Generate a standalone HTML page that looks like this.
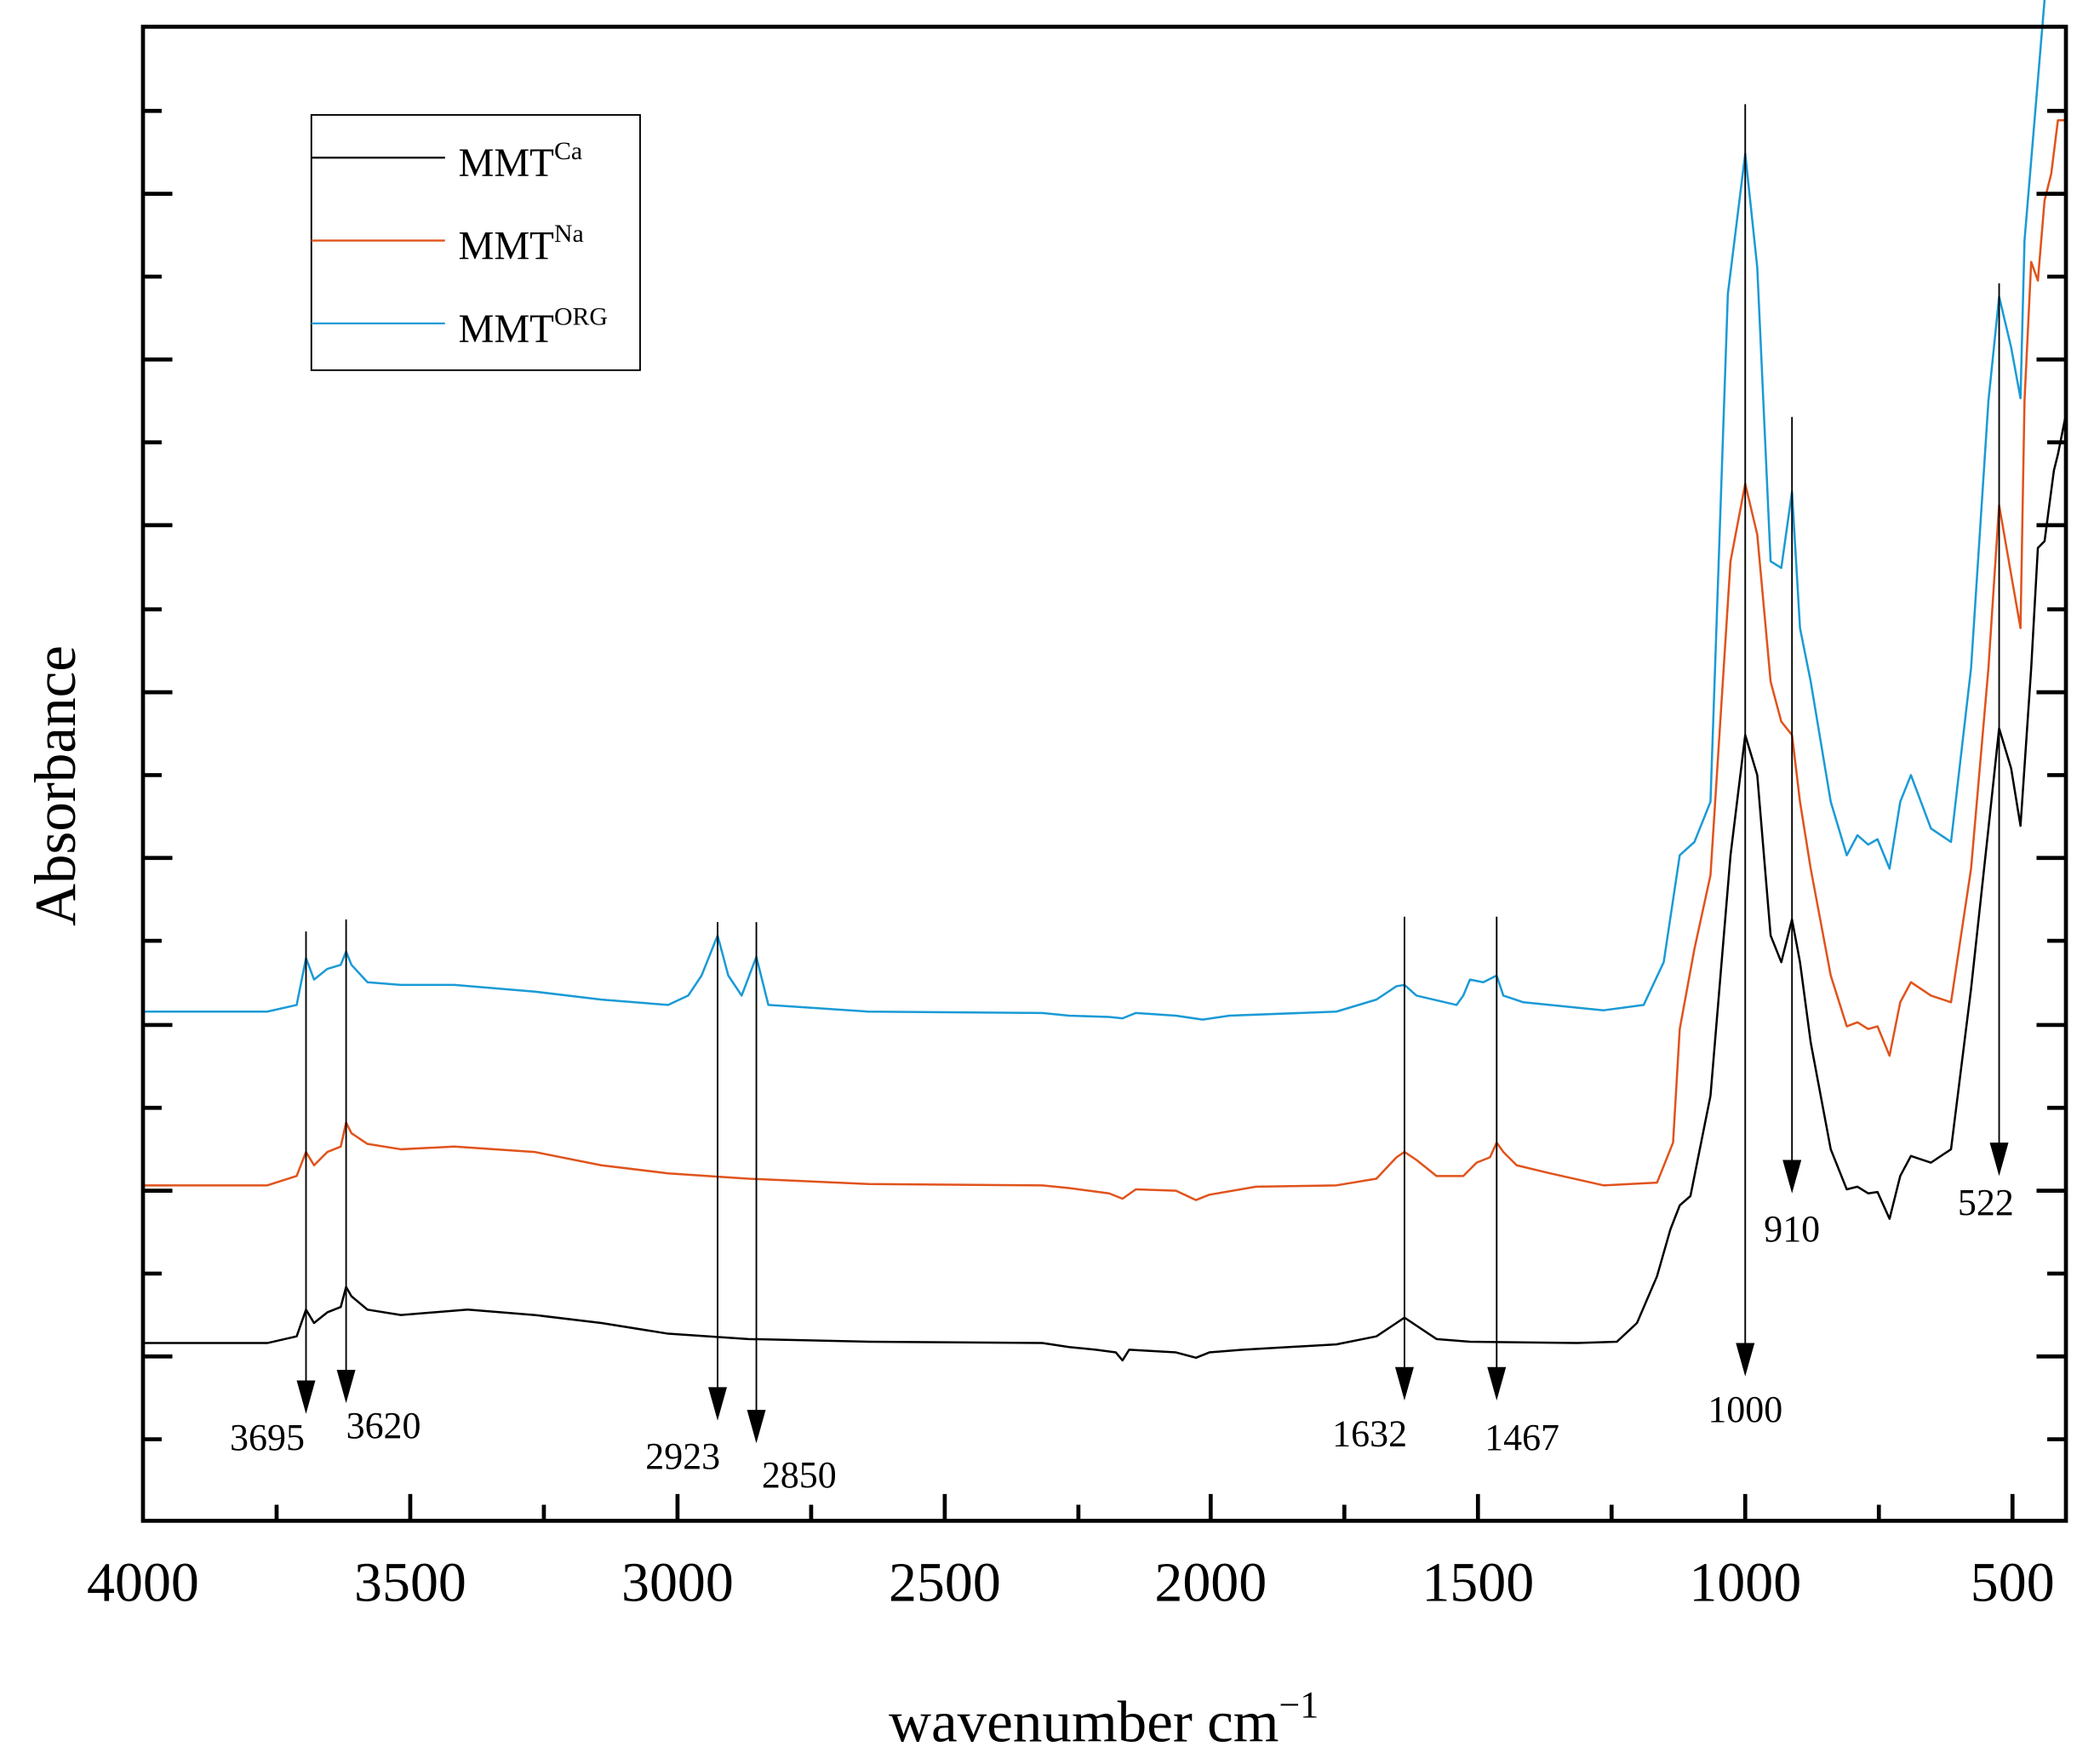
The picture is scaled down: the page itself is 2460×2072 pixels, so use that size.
<!DOCTYPE html>
<html><head><meta charset="utf-8"><style>html,body{margin:0;padding:0;background:#fff}svg{display:block}</style></head>
<body>
<svg width="2460" height="2072" viewBox="0 0 1567 1320" preserveAspectRatio="none" xmlns="http://www.w3.org/2000/svg" font-family="'Liberation Serif', serif">
<rect width="1567" height="1320" fill="#fff"/>
<g fill="none" stroke-width="1.6" stroke-linejoin="round">
<polyline stroke="#000" points="107,1005 200,1005 222,1000 229,980 235,990 245,982 255,978 259,963 263,970 275,980 300,984 350,980 400,984 450,990 500,998 560,1002 650,1004 780,1005 800,1008 820,1010 835,1012 840,1018 845,1010 880,1012 895,1016 905,1012 930,1010 1000,1006 1030,1000 1045,990 1051,986 1060,992 1075,1002 1100,1004 1180,1005 1210,1004 1225,990 1240,955 1250,920 1257,902 1265,895 1280,820 1295,640 1306,550 1315,580 1325,700 1333,720 1341,688 1347,720 1355,780 1370,860 1382,890 1390,888 1398,893 1405,892 1414,912 1422,880 1430,865 1445,870 1460,860 1475,740 1488,620 1496,545 1505,575 1512,618 1520,500 1525,410 1530,405 1537,352 1540,340 1546,310"/>
<polyline stroke="#e0531c" points="107,887 200,887 222,880 229,862 235,872 245,862 255,858 259,840 263,848 275,856 300,860 340,858 400,862 450,872 500,878 560,882 650,886 780,887 800,889 830,893 840,897 850,890 880,891 895,898 905,894 940,888 1000,887 1030,882 1045,866 1051,862 1060,868 1075,880 1095,880 1105,870 1115,866 1120,855 1125,862 1135,872 1160,878 1200,887 1240,885 1252,855 1257,770 1268,710 1280,655 1295,420 1306,362 1315,400 1325,510 1333,540 1341,550 1347,600 1355,650 1370,730 1382,768 1390,765 1398,770 1405,768 1414,790 1422,750 1430,735 1445,745 1460,750 1475,650 1488,500 1496,378 1505,430 1512,470 1515,300 1520,196 1525,210 1530,150 1535,130 1540,90 1546,90"/>
<polyline stroke="#1a9ad6" points="107,757 200,757 222,752 229,717 235,733 245,725 255,722 259,712 263,722 275,735 300,737 340,737 400,742 450,748 500,752 515,745 525,730 537,700 545,730 555,745 566,716 575,752 650,757 780,758 800,760 830,761 840,762 850,758 880,760 900,763 920,760 1000,757 1030,748 1045,738 1051,737 1060,745 1090,752 1095,745 1100,733 1110,735 1120,730 1125,745 1140,750 1200,756 1230,752 1245,720 1257,640 1268,630 1280,600 1293,220 1306,115 1315,200 1325,420 1333,425 1341,368 1347,470 1355,510 1370,600 1382,640 1390,625 1398,632 1405,628 1414,650 1422,600 1430,580 1445,620 1460,630 1475,500 1488,300 1496,222 1505,260 1512,298 1515,180 1520,120 1525,60 1530,0"/>
</g>
<g stroke="#000" stroke-width="1.2">
<line x1="229" y1="697" x2="229" y2="1035"/><line x1="259" y1="688" x2="259" y2="1027"/>
<line x1="537" y1="690" x2="537" y2="1040"/><line x1="566" y1="690" x2="566" y2="1057"/>
<line x1="1051" y1="686" x2="1051" y2="1025"/><line x1="1120" y1="686" x2="1120" y2="1025"/>
<line x1="1306" y1="78" x2="1306" y2="1007"/><line x1="1341" y1="312" x2="1341" y2="870"/>
<line x1="1496" y1="212" x2="1496" y2="857"/>
</g>
<g fill="#000">
<polygon points="222,1033 236,1033 229,1058"/><polygon points="252,1025 266,1025 259,1050"/>
<polygon points="530,1038 544,1038 537,1063"/><polygon points="559,1055 573,1055 566,1080"/>
<polygon points="1044,1023 1058,1023 1051,1048"/><polygon points="1113,1023 1127,1023 1120,1048"/>
<polygon points="1299,1005 1313,1005 1306,1030"/><polygon points="1334,868 1348,868 1341,893"/>
<polygon points="1489,855 1503,855 1496,880"/>
</g>
<g font-size="28" text-anchor="middle">
<text x="200" y="1085">3695</text><text x="287" y="1076">3620</text>
<text x="511" y="1099">2923</text><text x="598" y="1113">2850</text>
<text x="1025" y="1082">1632</text><text x="1139" y="1085">1467</text>
<text x="1306" y="1064">1000</text><text x="1341" y="929">910</text><text x="1486" y="909">522</text>
</g>
<rect x="107" y="20" width="1439" height="1118" fill="none" stroke="#000" stroke-width="3"/>
<g stroke="#000" stroke-width="3">
<path d="M107,145h22M107,269h22M107,393h22M107,518h22M107,642h22M107,767h22M107,891h22M107,1015h22"/>
<path d="M107,83h14M107,207h14M107,331h14M107,456h14M107,580h14M107,704h14M107,829h14M107,953h14M107,1077h14"/>
<path d="M1546,145h-22M1546,269h-22M1546,393h-22M1546,518h-22M1546,642h-22M1546,767h-22M1546,891h-22M1546,1015h-22"/>
<path d="M1546,83h-14M1546,207h-14M1546,331h-14M1546,456h-14M1546,580h-14M1546,704h-14M1546,829h-14M1546,953h-14M1546,1077h-14"/>
<path d="M307,1138v-20M507,1138v-20M707,1138v-20M906,1138v-20M1106,1138v-20M1306,1138v-20M1506,1138v-20"/>
<path d="M207,1138v-12M407,1138v-12M607,1138v-12M807,1138v-12M1006,1138v-12M1206,1138v-12M1406,1138v-12"/>
</g>
<g font-size="42" text-anchor="middle">
<text x="107" y="1198">4000</text><text x="307" y="1198">3500</text><text x="507" y="1198">3000</text>
<text x="707" y="1198">2500</text><text x="906" y="1198">2000</text><text x="1106" y="1198">1500</text>
<text x="1306" y="1198">1000</text><text x="1506" y="1198">500</text>
</g>
<text x="826" y="1303" font-size="44" text-anchor="middle">wavenumber cm<tspan font-size="28" dy="-18">−1</tspan></text>
<text transform="translate(56,588) rotate(-90)" font-size="44" text-anchor="middle">Absorbance</text>
<rect x="233" y="86" width="246" height="191" fill="#fff" stroke="#000" stroke-width="1.2"/>
<line x1="233" y1="118" x2="333" y2="118" stroke="#000" stroke-width="1.5"/>
<line x1="233" y1="180" x2="333" y2="180" stroke="#e0531c" stroke-width="1.5"/>
<line x1="233" y1="242" x2="333" y2="242" stroke="#1a9ad6" stroke-width="1.5"/>
<g font-size="30">
<text x="343" y="132">MMT<tspan font-size="19" dy="-13">Ca</tspan></text>
<text x="343" y="194">MMT<tspan font-size="19" dy="-13">Na</tspan></text>
<text x="343" y="256">MMT<tspan font-size="19" dy="-13">ORG</tspan></text>
</g>
</svg>
</body></html>
